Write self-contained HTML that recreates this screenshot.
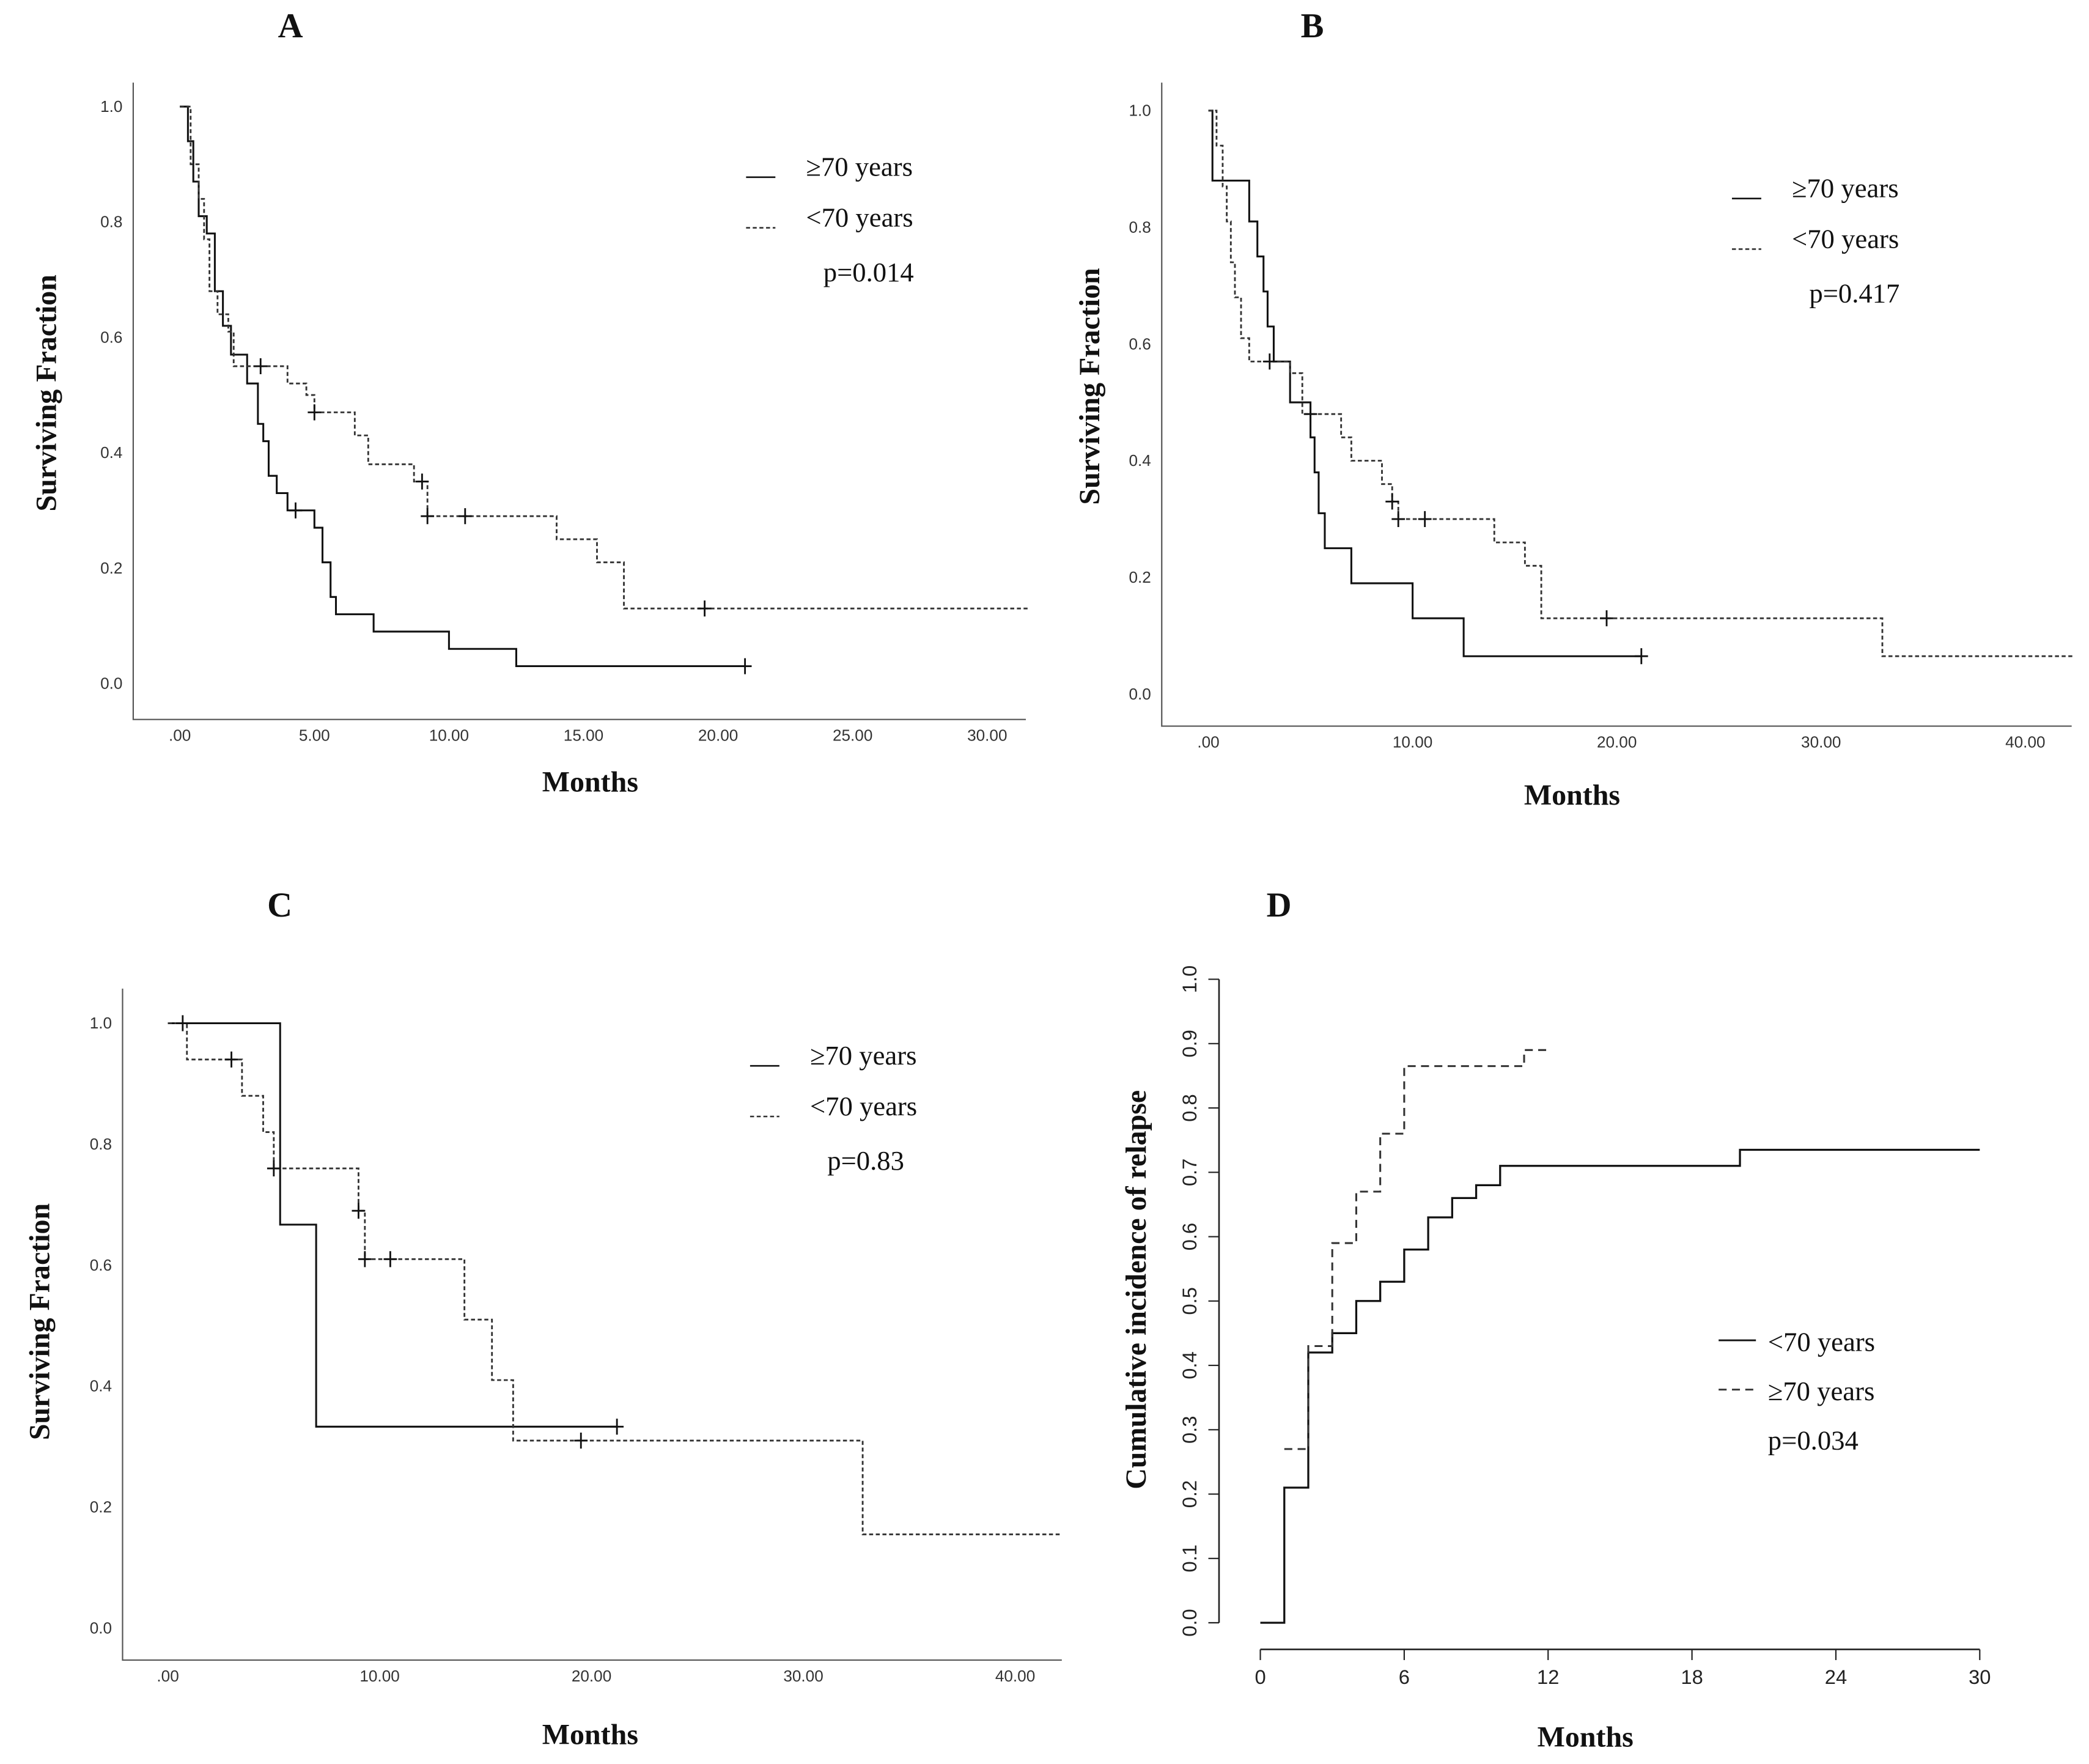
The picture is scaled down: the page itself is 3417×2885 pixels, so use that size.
<!DOCTYPE html>
<html><head><meta charset="utf-8"><style>
html,body{margin:0;padding:0;background:#fff}
svg{display:block}
text{font-family:"Liberation Serif",serif;fill:#111}
.tk{font-size:12px;font-family:"Liberation Sans",sans-serif;fill:#333}
.tkd{font-size:15px;font-family:"Liberation Sans",sans-serif;fill:#222}
.ttl{font-size:26px;font-weight:bold}
.axl{font-size:22px;font-weight:bold}
.lg{font-size:20.5px}
</style></head><body>
<svg id="chart" width="3417" height="2885" viewBox="0 0 1568 1324" preserveAspectRatio="none" xmlns="http://www.w3.org/2000/svg">
<g id="root"></g>
</svg>
<script>
// Panel A data
const aSolidT=[0,0.3,0.5,0.7,1.0,1.3,1.6,1.9,2.5,2.9,3.1,3.3,3.6,4.0,5.0,5.3,5.6,5.8,7.2,10.0,12.5];
const aSolidS=[1,0.94,0.87,0.81,0.78,0.68,0.62,0.57,0.52,0.45,0.42,0.36,0.33,0.30,0.27,0.21,0.15,0.12,0.09,0.06,0.03];
const aSolidEnd=21.0;
const aSolidCensT=[4.3,21.0];
const aDashT=[0,0.4,0.7,0.9,1.1,1.4,1.8,2.0,4.0,4.7,5.0,6.5,7.0,8.7,9.2,14.0,15.5,16.5];
const aDashS=[1,0.9,0.84,0.77,0.68,0.64,0.61,0.55,0.52,0.5,0.47,0.43,0.38,0.35,0.29,0.25,0.21,0.13];
const aDashEnd=31.5;
const aDashCensT=[3.0,5.0,9.0,9.2,10.6,19.5];
// Panel B data
const bSolidT=[0,0.2,2.0,2.4,2.7,2.9,3.2,4.0,5.0,5.2,5.4,5.7,7.0,10.0,12.5];
const bSolidS=[1,0.88,0.81,0.75,0.69,0.63,0.57,0.50,0.44,0.38,0.31,0.25,0.19,0.13,0.065];
const bSolidEnd=21.2;
const bSolidCensT=[21.2];
const bDashT=[0,0.4,0.7,0.9,1.1,1.3,1.6,2.0,4.0,4.6,6.5,7.0,8.5,9.0,9.3,14.0,15.5,16.3,33.0];
const bDashS=[1,0.94,0.87,0.81,0.74,0.68,0.61,0.57,0.55,0.48,0.44,0.40,0.36,0.33,0.30,0.26,0.22,0.13,0.065];
const bDashEnd=42.4;
const bDashCensT=[3.0,5.0,9.0,9.3,10.6,19.5];
// Panel C data
const cSolidT=[0,5.3,7.0];
const cSolidS=[1,0.667,0.333];
const cSolidEnd=21.2;
const cSolidCensT=[0.7,21.2];
const cDashT=[0,0.9,3.5,4.5,5.0,9.0,9.3,14.0,15.3,16.3,32.8];
const cDashS=[1,0.94,0.88,0.82,0.76,0.69,0.61,0.51,0.41,0.31,0.155];
const cDashEnd=42.2;
const cDashCensT=[3.0,5.0,9.0,9.3,10.5,19.5];
// Panel D data
const dSolidT=[0,1,2,3,4,5,6,7,8,9,10,20];
const dSolidV=[0,0.21,0.42,0.45,0.50,0.53,0.58,0.63,0.66,0.68,0.71,0.735];
const dSolidEnd=30;
const dDashT=[1,2,3,4,5,6,11];
const dDashV=[0.27,0.43,0.59,0.67,0.76,0.865,0.89];
const dDashEnd=12;
const dYTicks=[0,0.1,0.2,0.3,0.4,0.5,0.6,0.7,0.8,0.9,1.0];
const dXTicks=[0,6,12,18,24,30];

const NS='http://www.w3.org/2000/svg';
const root=document.getElementById('root');
function el(tag,attrs,parent,txt){const e=document.createElementNS(NS,tag);for(const k in attrs)e.setAttribute(k,attrs[k]);if(txt!==undefined)e.textContent=txt;(parent||root).appendChild(e);return e;}
function stepPath(T,S,end,sx,sy){let d='M'+sx(T[0])+','+sy(S[0]);for(let i=1;i<T.length;i++){d+=' H'+sx(T[i])+' V'+sy(S[i]);}d+=' H'+sx(end);return d;}
function valAt(T,S,t){let v=S[0];for(let i=0;i<T.length;i++){if(T[i]<=t)v=S[i];}return v;}

function kmPanel(p){
  const g=el('g',{});
  
  
  const sx=t=>p.x0+t*p.px; const sy=s=>p.y0-s*p.py*10;
  const ax=el('path',{d:`M${p.ax},${p.top} V${p.bottom} H${p.right}`,stroke:'#555','stroke-width':1,fill:'none'},g);
  
  p.yvals.forEach((v,i)=>{const t=el('text',{x:p.ax-8,y:sy(v)+4,'text-anchor':'end',class:'tk'},g,p.ylabels[i]);
    });
  p.xvals.forEach((v,i)=>{const t=el('text',{x:sx(v),y:p.bottom+16,'text-anchor':'middle',class:'tk'},g,p.xlabels[i]);
    });
  const s1=el('path',{d:stepPath(p.sT,p.sS,p.sEnd,sx,sy),stroke:'#111','stroke-width':1.4,fill:'none'},g);
  
  const s2=el('path',{d:stepPath(p.dT,p.dS,p.dEnd,sx,sy),stroke:'#333','stroke-width':1.3,fill:'none','stroke-dasharray':'3,2'},g);
  
  const cens=(T,S,ct)=>ct.forEach(t=>{const x=sx(t),y=sy(valAt(T,S,t));
    const c=el('path',{d:`M${x-5},${y} H${x+5} M${x},${y-6} V${y+6}`,stroke:'#111','stroke-width':1.3},g);
    });
  cens(p.sT,p.sS,p.sCens);cens(p.dT,p.dS,p.dCens);
  const tl=el('text',{x:p.tx,y:p.ty,'text-anchor':'middle',class:'ttl'},g,p.title);
  
  const xl=el('text',{x:p.xlx,y:p.xly,'text-anchor':'middle',class:'axl'},g,'Months');
  
  const yl=el('text',{x:0,y:0,'text-anchor':'middle',class:'axl',transform:`translate(${p.ylx},${p.yly}) rotate(-90)`},g,'Surviving Fraction');
  
  const L=p.leg;
  const l1=el('line',{x1:L.x,x2:L.x+22,y1:L.y,y2:L.y,stroke:'#111','stroke-width':1.2},g);
  
  const t1=el('text',{x:L.x+45,y:L.y-1,class:'lg'},g,'≥70 years');
  
  const l2=el('line',{x1:L.x,x2:L.x+22,y1:L.y+38,y2:L.y+38,stroke:'#333','stroke-width':1.2,'stroke-dasharray':'3,2'},g);
  
  const t2=el('text',{x:L.x+45,y:L.y+37,class:'lg'},g,'<70 years');
  
  const pv=el('text',{x:L.x+58,y:L.y+78,class:'lg'},g,p.pval);
  
}

kmPanel({name:'panel-a',x0:135,px:20.2,y0:513,py:43.3,ax:100,top:62,bottom:540,right:770,
  yvals:[0,0.2,0.4,0.6,0.8,1.0],ylabels:['0.0','0.2','0.4','0.6','0.8','1.0'],
  xvals:[0,5,10,15,20,25,30],xlabels:['.00','5.00','10.00','15.00','20.00','25.00','30.00'],
  sT:aSolidT,sS:aSolidS,sEnd:aSolidEnd,sCens:aSolidCensT,dT:aDashT,dS:aDashS,dEnd:aDashEnd,dCens:aDashCensT,
  title:'A',tx:218,ty:28,xlx:443,xly:594,ylx:42,yly:295,leg:{x:560,y:133},pval:'p=0.014'});
kmPanel({name:'panel-b',x0:907,px:15.33,y0:521,py:43.8,ax:872,top:62,bottom:545,right:1555,
  yvals:[0,0.2,0.4,0.6,0.8,1.0],ylabels:['0.0','0.2','0.4','0.6','0.8','1.0'],
  xvals:[0,10,20,30,40],xlabels:['.00','10.00','20.00','30.00','40.00'],
  sT:bSolidT,sS:bSolidS,sEnd:bSolidEnd,sCens:bSolidCensT,dT:bDashT,dS:bDashS,dEnd:bDashEnd,dCens:bDashCensT,
  title:'B',tx:985,ty:28,xlx:1180,xly:604,ylx:825,yly:290,leg:{x:1300,y:149},pval:'p=0.417'});
kmPanel({name:'panel-c',x0:126,px:15.9,y0:1222,py:45.4,ax:92,top:742,bottom:1246,right:797,
  yvals:[0,0.2,0.4,0.6,0.8,1.0],ylabels:['0.0','0.2','0.4','0.6','0.8','1.0'],
  xvals:[0,10,20,30,40],xlabels:['.00','10.00','20.00','30.00','40.00'],
  sT:cSolidT,sS:cSolidS,sEnd:cSolidEnd,sCens:cSolidCensT,dT:cDashT,dS:cDashS,dEnd:cDashEnd,dCens:cDashCensT,
  title:'C',tx:210,ty:688,xlx:443,xly:1309,ylx:37,yly:992,leg:{x:563,y:800},pval:'p=0.83'});

// Panel D
(function(){
  const g=el('g',{});
  
  
  const sx=t=>946+t*18; const sy=v=>1218-v*483;
  const ya=el('path',{d:`M915,${sy(0)} V${sy(1)}`,stroke:'#222','stroke-width':1.2,fill:'none'},g);
  
  dYTicks.forEach(v=>{el('line',{x1:907,x2:915,y1:sy(v),y2:sy(v),stroke:'#222'},g);
    const t=el('text',{x:0,y:0,'text-anchor':'middle',class:'tkd',transform:`translate(${898},${sy(v)}) rotate(-90)`},g,v.toFixed(1));
    });
  const xa=el('path',{d:`M${sx(0)},1238 H${sx(30)}`,stroke:'#222','stroke-width':1.2,fill:'none'},g);
  
  dXTicks.forEach(v=>{el('line',{x1:sx(v),x2:sx(v),y1:1238,y2:1246,stroke:'#222'},g);
    const t=el('text',{x:sx(v),y:1264,'text-anchor':'middle',class:'tkd'},g,String(v));
    });
  const s1=el('path',{d:stepPath(dSolidT,dSolidV,dSolidEnd,sx,sy),stroke:'#111','stroke-width':1.5,fill:'none'},g);
  
  const s2=el('path',{d:stepPath(dDashT,dDashV,dDashEnd,sx,sy),stroke:'#333','stroke-width':1.4,fill:'none','stroke-dasharray':'6,4'},g);
  
  const tl=el('text',{x:960,y:688,'text-anchor':'middle',class:'ttl'},g,'D');
  
  const xl=el('text',{x:1190,y:1311,'text-anchor':'middle',class:'axl'},g,'Months');
  
  const yl=el('text',{x:0,y:0,'text-anchor':'middle',class:'axl',transform:'translate(860,968) rotate(-90)'},g,'Cumulative incidence of relapse');
  
  const l1=el('line',{x1:1290,x2:1318,y1:1006,y2:1006,stroke:'#111','stroke-width':1.3},g);
  
  const t1=el('text',{x:1327,y:1014,class:'lg'},g,'<70 years');
  
  const l2=el('line',{x1:1290,x2:1318,y1:1043,y2:1043,stroke:'#333','stroke-width':1.3,'stroke-dasharray':'6,4'},g);
  
  const t2=el('text',{x:1327,y:1051,class:'lg'},g,'≥70 years');
  
  const pv=el('text',{x:1327,y:1088,class:'lg'},g,'p=0.034');
  
})();
</script>
</body></html>
